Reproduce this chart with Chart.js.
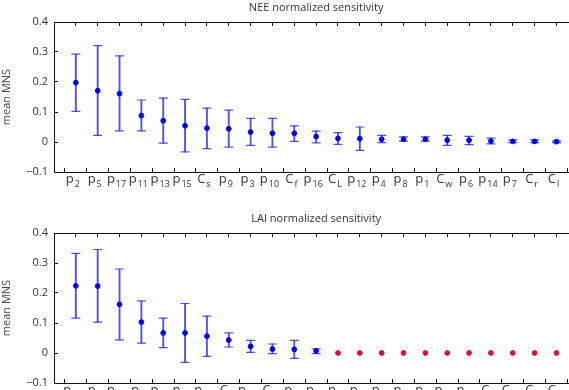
<!DOCTYPE html>
<html>
<head>
<meta charset="utf-8">
<script src="https://cdn.jsdelivr.net/npm/chart.js@4"></script>
<style>
  body { margin: 0; overflow: hidden; background: #fff; }
  .panel { width: 569px; overflow: hidden; position: relative; }
  #p1 { height: 195px; }
  #p2 { height: 195px; }
</style>
</head>
<body>
<div class="panel" id="p1"><canvas id="neeChart" width="584" height="195"></canvas></div>
<div class="panel" id="p2"><canvas id="laiChart" width="584" height="215"></canvas></div>
<script>
// NEE panel
var neeBase = ['p','p','p','p','p','p','C','p','p','p','C','p','C','p','p','p','p','C','p','p','p','C','C'];
var neeSub  = ['2','5','17','11','13','15','s','9','3','10','f','16','L','12','4','8','1','w','6','14','7','r','l'];
var neeMean = [0.198,0.171,0.161,0.088,0.071,0.054,0.046,0.044,0.033,0.029,0.029,0.018,0.012,0.011,0.009,0.009,0.009,0.006,0.006,0.003,0.002,0.002,0.001];
var neeHi   = [0.293,0.321,0.287,0.140,0.146,0.142,0.113,0.106,0.079,0.079,0.054,0.036,0.031,0.050,0.022,0.017,0.017,0.022,0.019,0.013,0.007,0.007,0.004];
var neeLo   = [0.102,0.022,0.037,0.037,-0.004,-0.033,-0.022,-0.017,-0.011,-0.017,0.002,-0.003,-0.008,-0.028,-0.002,0.003,0.003,-0.011,-0.009,-0.006,-0.002,-0.002,-0.002];

// LAI panel (labels are cut off in the picture, subscripts guessed)
var laiBase = ['p','p','p','p','p','p','p','C','p','C','p','p','p','p','p','p','p','p','p','C','C','C','C'];
var laiSub  = ['17','2','11','5','13','15','10','f','16','L','9','3','1','4','6','7','8','12','14','s','w','r','l'];
var laiMean = [0.224,0.223,0.162,0.103,0.067,0.067,0.056,0.043,0.022,0.013,0.012,0.007,0,0,0,0,0,0,0,0,0,0,0];
var laiHi   = [0.332,0.345,0.280,0.174,0.116,0.165,0.123,0.067,0.042,0.030,0.042,0.014];
var laiLo   = [0.116,0.103,0.044,0.033,0.018,-0.031,-0.011,0.020,0.002,-0.002,-0.018,-0.002];
var laiNonzero = 12; // first 12 parameters have nonzero sensitivity (blue), rest are red

var yTicks = [-0.1, 0, 0.1, 0.2, 0.3, 0.4];
var FONT = '"Open Sans", "Liberation Sans", sans-serif';
var AXIS = '#111';

// category labels with subscripts
var subLabels = {
  id: 'subLabels',
  afterDraw: function(chart, args, o) {
    var ctx = chart.ctx, xs = chart.scales.x;
    var B = Math.round(chart.chartArea.bottom);
    ctx.save();
    ctx.fillStyle = '#333';
    ctx.textBaseline = 'alphabetic';
    for (var j = 0; j < o.base.length; j++) {
      var cx = xs.getPixelForValue(j) - 3;
      ctx.font = '13px ' + FONT;
      var w1 = ctx.measureText(o.base[j]).width;
      ctx.font = '9px ' + FONT;
      var w2 = ctx.measureText(o.sub[j]).width;
      var x0 = cx - (w1 + 1 + w2) / 2;
      ctx.font = '13px ' + FONT;
      ctx.fillText(o.base[j], x0, B + 11);
      ctx.font = '9px ' + FONT;
      ctx.fillText(o.sub[j], x0 + w1 + 1, B + 15);
    }
    ctx.restore();
  }
};

function catTicks(s) {
  var t = [];
  for (var i = 0; i < 23; i++) t.push({ value: i });
  s.ticks = t;
}

function makeChart(id, title, base, sub, mean, hi, lo, nBlue, topH, titlePadTop, xHeight) {
  var bars = [], caps = [], blue = [], red = [];
  for (var i = 0; i < mean.length; i++) {
    if (i < nBlue) {
      bars.push({ x: i, y: [lo[i], hi[i]] });
      caps.push({ x: i, y: hi[i] });
      caps.push({ x: i, y: lo[i] });
      blue.push({ x: i, y: mean[i] });
    } else {
      red.push({ x: i, y: mean[i] });
    }
  }
  var inwardGrid = { display: true, drawOnChartArea: false, drawTicks: true, tickLength: -4, color: AXIS, lineWidth: 1 };
  // datasets earlier in the list are drawn on top
  return new Chart(document.getElementById(id), {
    type: 'scatter',
    data: {
      datasets: [
        { data: blue, pointRadius: 2.4, pointBorderWidth: 1, backgroundColor: '#0000f0', borderColor: '#0000f0' },
        { data: red, pointRadius: 2.4, pointBorderWidth: 1, backgroundColor: '#e0102a', borderColor: '#e0102a' },
        { data: caps, pointStyle: 'line', pointRadius: 4.5, borderColor: 'rgba(50,50,225,0.85)', borderWidth: 1.2 },
        { type: 'bar', data: bars, backgroundColor: 'rgba(50,50,225,0.85)', barThickness: 1.2 }
      ]
    },
    options: {
      responsive: false,
      animation: false,
      events: [],
      layout: { padding: 0 },
      plugins: {
        legend: { display: false },
        subLabels: { base: base, sub: sub }
      },
      scales: {
        x: {
          type: 'linear', min: -1, max: 23, offset: false,
          afterBuildTicks: catTicks,
          grid: inwardGrid, border: { display: true, color: AXIS, width: 1 },
          ticks: { display: false },
          afterFit: function(s) { s.height = xHeight; }
        },
        x2: {
          type: 'linear', position: 'top', min: -1, max: 23, offset: false,
          afterBuildTicks: catTicks,
          grid: inwardGrid, border: { display: true, color: AXIS, width: 1 },
          ticks: { display: false },
          title: {
            display: true, text: title, color: '#333', align: 'center',
            padding: { top: titlePadTop, bottom: 0 },
            font: { family: FONT, size: 11, weight: 'normal' }
          },
          afterFit: function(s) { s.height = topH; }
        },
        y: {
          min: -0.1, max: 0.4,
          afterBuildTicks: function(s) { s.ticks = yTicks.map(function(v) { return { value: v }; }); },
          grid: inwardGrid, border: { display: true, color: AXIS, width: 1 },
          ticks: {
            color: '#333', padding: 10,
            font: { family: FONT, size: 11 },
            callback: function(v) { return v < 0 ? '\u2212' + Math.abs(v) : String(v); }
          },
          title: {
            display: true, text: 'mean MNS', color: '#444', padding: { top: 0, bottom: 6 },
            font: { family: FONT, size: 11 }
          },
          afterFit: function(s) { s.width = 54; }
        }
      }
    },
    plugins: [subLabels]
  });
}

makeChart('neeChart', 'NEE normalized sensitivity', neeBase, neeSub, neeMean, neeHi, neeLo, neeMean.length, 22, 1, 23);
makeChart('laiChart', 'LAI normalized sensitivity', laiBase, laiSub, laiMean, laiHi, laiLo, laiNonzero, 38, 17, 27);
</script>
</body>
</html>
